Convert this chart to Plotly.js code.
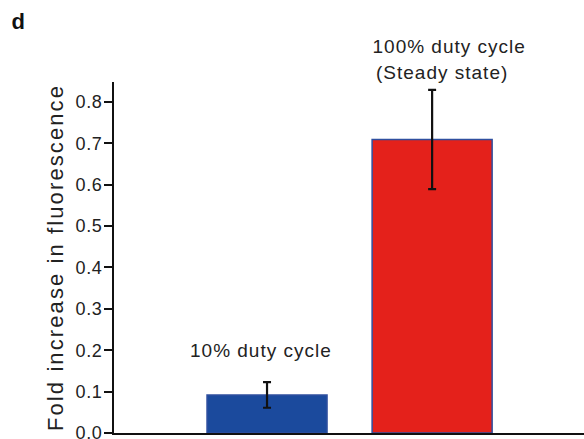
<!DOCTYPE html>
<html>
<head>
<meta charset="utf-8">
<script src="https://cdn.plot.ly/plotly-3.0.1.min.js"></script>
<style>
html,body{margin:0;padding:0;background:#fff;}
#chart{width:584px;height:439px;}
#chart .ytitle{letter-spacing:2.1px;}
#chart .ytick text{letter-spacing:0.6px;}
#chart .annotation-text{letter-spacing:1px;}
#chart .annotation:first-of-type .annotation-text{letter-spacing:0;}
</style>
</head>
<body>
<div id="chart"></div>
<script>
var categories = ["10% duty cycle", "100% duty cycle (Steady state)"];
var values = [0.092, 0.709];
var errors = [0.031, 0.12];
var barColors = ["#1b4a9d", "#e4211b"];
var yTicks = [0.0, 0.1, 0.2, 0.3, 0.4, 0.5, 0.6, 0.7, 0.8];
var yTickLabels = ["0.0", "0.1", "0.2", "0.3", "0.4", "0.5", "0.6", "0.7", "0.8"];

var FONT = "Liberation Sans, Arial, sans-serif";

var trace = {
  type: "bar",
  x: [0, 1],
  y: values,
  width: 0.727,
  marker: {color: barColors, line: {color: "#2f4f9f", width: 1.5}},
  error_y: {type: "data", array: errors, visible: true, color: "#111", thickness: 2.2, width: 4},
  hoverinfo: "none"
};

var layout = {
  width: 584, height: 439,
  margin: {l: 114, r: 0, t: 82, b: 6},
  paper_bgcolor: "#fff", plot_bgcolor: "#fff",
  showlegend: false,
  font: {family: FONT, color: "#222"},
  xaxis: {
    range: [-0.927, 1.92],
    showline: true, linecolor: "#111", linewidth: 2,
    showticklabels: false, ticks: "", showgrid: false, zeroline: false
  },
  yaxis: {
    range: [0, 0.848],
    tickvals: yTicks, ticktext: yTickLabels,
    ticks: "outside", ticklen: 8, tickwidth: 2, tickcolor: "#111",
    ticklabeloverflow: "allow",
    ticklabelstandoff: -2,
    showline: true, linecolor: "#111", linewidth: 2,
    showgrid: false, zeroline: false,
    tickfont: {size: 18, color: "#222", family: FONT},
    title: {text: "Fold increase in fluorescence", font: {size: 22, color: "#222", family: FONT}, standoff: 8}
  },
  annotations: [
    {text: "<b>d</b>", xref: "paper", yref: "paper", x: -0.204, y: 1.172, xanchor: "center", yanchor: "middle", showarrow: false, font: {size: 22, color: "#111", family: FONT}},
    {text: categories[0], xref: "x", yref: "y", x: -0.036, y: 0.199, showarrow: false, yanchor: "middle", font: {size: 19, color: "#222", family: FONT}},
    {text: "100% duty cycle", xref: "x", yref: "paper", x: 1.1, y: 1.101, showarrow: false, yanchor: "middle", font: {size: 19, color: "#222", family: FONT}},
    {text: "(Steady state)", xref: "x", yref: "paper", x: 1.06, y: 1.028, showarrow: false, yanchor: "middle", font: {size: 19, color: "#222", family: FONT}}
  ]
};

Plotly.newPlot("chart", [trace], layout, {staticPlot: true, displayModeBar: false});
</script>
</body>
</html>
